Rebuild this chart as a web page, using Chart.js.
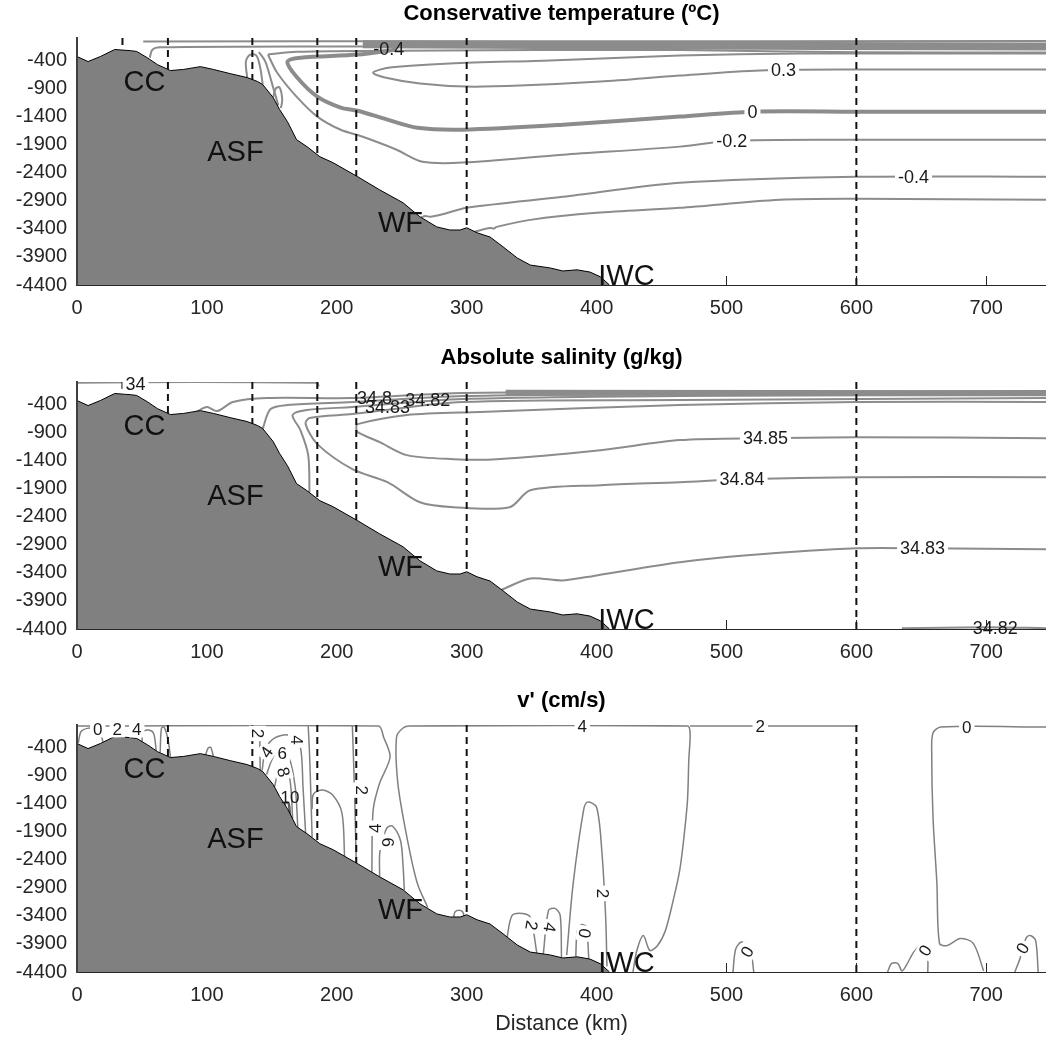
<!DOCTYPE html>
<html lang="en">
<head>
<meta charset="UTF-8">
<title>Sections</title>
<script src="https://cdn.jsdelivr.net/npm/chart.js"></script>
<style>
  body { margin: 0; background: #fff; }
  .panel { position: absolute; left: 0; width: 1046px; }
</style>
</head>
<body>
<div class="panel" style="top:0px"><canvas id="c1" width="1046" height="330"></canvas></div>
<div class="panel" style="top:344px"><canvas id="c2" width="1046" height="330"></canvas></div>
<div class="panel" style="top:687px"><canvas id="c3" width="1046" height="350"></canvas></div>

<script>
const distTicks = [0, 100, 200, 300, 400, 500, 600, 700];
const depthTicks = [-4400, -3900, -3400, -2900, -2400, -1900, -1400, -900, -400];
const stations = [35, 70, 135, 185, 215, 300, 600];

// seabed profile [km, m]
const bathy = [[0,-330],[8.5,-420],[18,-330],[29,-205],[41,-225],[46,-240],[54,-350],[62,-475],[72,-580],[82,-560],
  [95,-510],[105,-560],[118,-635],[131,-705],[139,-775],[143,-830],[151,-1060],[156,-1275],[162,-1490],[169,-1810],
  [177,-1935],[187,-2115],[197,-2220],[216,-2470],[233,-2705],[251,-2935],[264,-3185],[277,-3365],[287,-3420],
  [295,-3420],[300,-3380],[308,-3470],[318,-3545],[328,-3720],[339,-3920],[349,-4045],[364,-4095],[374,-4150],
  [385,-4130],[395,-4170],[403,-4255],[410,-4400]];
const regionNames = [['CC', 52, -795], ['ASF', 122, -2045], ['WF', 249, -3310], ['IWC', 423, -4257]];

// conservative temperature contours
const tSurf1 = [[51,-62],[300,-58],[746,-55]];
const tSurf2 = [[56,-350],[58,-210],[64,-165],[195,-150],[746,-140]];
const tBand = [[220,-110],[400,-130],[746,-150]];
const tSurf3 = [[147,-295],[169,-245],[246,-225],[464,-215],[600,-255],[746,-260]];
const tM02 = [[147,-295],[154,-615],[169,-1045],[185,-1400],[203,-1635],[220,-1760],[246,-1990],[266,-2205],
  [297,-2220],[374,-2080],[464,-1935],[504,-1830],[600,-1812],[746,-1812]];
const tZero = [[246,-205],[216,-295],[172,-350],[162,-420],[169,-690],[185,-1045],[203,-1240],[216,-1295],
  [239,-1455],[262,-1600],[297,-1633],[374,-1545],[464,-1400],[520,-1312],[600,-1312],[746,-1312]];
const tP03 = [[746,-277],[557,-277],[464,-312],[364,-400],[287,-455],[241,-527],[228,-616],[237,-705],[264,-812],
  [300,-866],[341,-848],[403,-776],[464,-670],[526,-580],[596,-562],[746,-562]];
const tM04 = [[265,-3195],[268,-3170],[272,-3185],[280,-3150],[300,-3025],[374,-2830],[464,-2580],[600,-2472],[746,-2472]];
const tM05 = [[306,-3450],[318,-3385],[321,-3395],[323,-3365],[349,-3240],[400,-3115],[464,-3026],[541,-2883],[600,-2865],[746,-2883]];
const tShelf1 = [[131,-705],[130,-420],[133,-300],[138,-310],[141,-520],[143,-830]];
const tShelf2 = [[151,-1060],[153,-900],[156,-880],[158,-1100],[157,-1250]];
const tShelf3 = [[140,-250],[145,-420],[150,-800],[155,-1200]];
const tempLabels = [['-0.4',240,-190,0,false],['0.3',544,-562,0,true],['0',520,-1312,0,true],
  ['-0.2',504,-1830,0,true],['-0.4',644,-2472,0,true]];

// absolute salinity contours
const s34 = [[0,-250],[0,-15],[185,-15],[186,-80]];
const sA1 = [[92,-530],[100,-446],[108,-517],[120,-357],[146,-286],[212,-286],[297,-196],[464,-178],[746,-160]];
const sA2 = [[143,-830],[149,-482],[162,-410],[212,-357],[297,-250],[464,-214],[746,-196]];
const sA3 = [[179,-1960],[178,-1303],[172,-857],[166,-589],[177,-500],[212,-446],[297,-303],[464,-250],[746,-232]];
const sA4 = [[746,-286],[464,-321],[297,-357],[212,-571],[179,-640],[176,-750],[185,-1107],[212,-1553],[239,-1785],
  [264,-2142],[290,-2231],[333,-2231],[349,-1928],[403,-1838],[464,-1785],[512,-1731],[600,-1696],[746,-1696]];
const sA5 = [[746,-357],[600,-357],[464,-410],[310,-535],[254,-589],[216,-750],[215,-820],[216,-893],[233,-1071],
  [254,-1303],[290,-1374],[323,-1374],[403,-1214],[464,-1035],[530,-1000],[600,-982],[746,-1000]];
const sBand = [[330,-190],[746,-200]];
const sA6 = [[327,-3700],[349,-3499],[374,-3535],[400,-3445],[464,-3213],[516,-3088],[600,-2963],[651,-2963],[746,-2981]];
const sA7 = [[635,-4385],[700,-4370],[746,-4385]];
const saltLabels = [['34',45,-40,0,true],['34.8',229,-285,0,false],['34.83',239,-450,0,false],['34.82',270,-321,0,false],
  ['34.85',530,-1000,0,true],['34.84',512,-1731,0,true],['34.83',651,-2963,0,true],['34.82',707,-4390,0,false]];

// v' contours
const v4a = [[0,-18],[232,-18],[236,-214],[241,-571],[233,-1035],[228,-1517],[227,-2620]];
const v4b = [[270,-3250],[262,-2820],[254,-2000],[247,-1035],[246,-214],[251,-54],[256,-18],[470,-18],[472,-143],
  [471,-625],[470,-1339],[467,-2053],[464,-2588],[459,-3124],[453,-3660],[447,-3927],[441,-4016],[436,-3749],[431,-4016],[428,-4400]];
const v2top = [[472,-18],[601,-18]];
const v0 = [[746,-36],[665,-36],[659,-143],[658,-450],[659,-1640],[662,-2820],[664,-3890],[670,-3927],[680,-3802],[690,-3890],[698,-4380]];
const v2arch = [[377,-4100],[382,-2820],[390,-1517],[393,-1374],[400,-1464],[404,-2231],[407,-3427],[408,-4300]];
const vBump1 = [[331,-3790],[335,-3392],[343,-3356],[349,-3427],[354,-4060]];
const vBump2 = [[359,-4080],[363,-3302],[368,-3267],[372,-3392],[373,-4140]];
const vBump3 = [[384,-4125],[385,-3700],[388,-3560],[392,-3590],[394,-4160]];
const vBumpWF = [[290,-3420],[291,-3330],[294,-3300],[297,-3330],[298,-3410]];
const vBump4 = [[505,-4400],[507,-4000],[511,-3870],[516,-3900],[519,-4050],[521,-4400]];
const vBump5 = [[624,-4400],[627,-4250],[632,-4250],[635,-4380],[638,-4300],[644,-4050],[649,-3930],[653,-3890],[655,-4100],[655,-4400]];
const vBump6 = [[722,-4400],[726,-4160],[729,-3900],[731,-3784],[734,-3749],[738,-3838],[740,-4400]];
const v2slope = [[141,-800],[141,-36],[143,-18]];
const vArch4 = [[142.5,-810],[145,-446],[150,-268],[159,-178],[166,-214],[172,-393],[174,-1107],[176,-1925]];
const vArch6 = [[146,-880],[151,-571],[156,-482],[163,-571],[168,-1107],[170,-1830]];
const vArch8 = [[152,-1107],[155,-857],[160,-803],[164,-982],[166,-1660]];
const vCore10 = [[159,-1450],[161,-1380],[163,-1400],[164,-1700],[162,-1580],[160,-1480]];
const vSideA = [[178,-18],[179,-500],[180,-1200],[181,-2000]];
const vSideB = [[181,-1500],[182,-1230],[189,-1160],[197,-1250],[204,-1570],[206,-2340]];
const vSideC = [[212,-18],[213,-700],[214,-1500],[215,-2460]];
const vArch6b = [[233,-2700],[233,-2300],[235,-2053],[239,-1821],[243,-1803],[249,-2053],[251,-2500],[252,-2940]];
const vShelf1 = [[1,-320],[3,-120],[8,-60],[14,-60],[18,-150],[20,-300]];
const vShelf2 = [[50,-310],[51,-120],[55,-90],[59,-150],[61,-460]];
const vShelf3 = [[64,-490],[65,-60],[67,-36],[70,-250],[72,-580]];
const vShelf4 = [[99,-530],[101,-410],[103,-400],[105,-560]];
const velLabels = [['0',16,-71,0,true],['2',31,-71,0,true],['4',46,-71,0,true],['2',139,-150,90,true],
  ['4',146,-482,-55,true],['6',158,-500,0,true],['8',159,-839,75,true],['10',164,-1285,0,false],['4',169,-268,90,true],
  ['2',219,-1160,90,true],['4',230,-1839,-90,true],['6',239,-2089,90,true],['4',389,-18,0,true],['2',526,-18,0,true],
  ['0',685,-36,0,true],['2',405,-3000,90,true],['2',350,-3570,100,true],['4',364,-3606,100,true],['0',391,-3713,-80,true],
  ['0',516,-4040,-60,true],['0',653,-4016,-60,true],['0',728,-3980,-60,true]];

const FONT = '"Liberation Sans", Arial, Helvetica, sans-serif';

function toXY(arr) {
  return arr.map(p => ({ x: p[0], y: p[1] }));
}

function contour(arr, width, color) {
  return {
    data: toXY(arr),
    borderColor: color || '#8c8c8c',
    borderWidth: width || 2,
    pointRadius: 0,
    tension: 0.3,
    fill: false,
    order: 3
  };
}

function stationLines() {
  return stations.map(s => ({
    data: [{ x: s, y: 0 }, { x: s, y: -4400 }],
    borderColor: '#111',
    borderWidth: 2,
    borderDash: [7, 5],
    pointRadius: 0,
    fill: false,
    order: 2
  }));
}

function seabed() {
  return {
    data: toXY(bathy),
    borderColor: '#000',
    borderWidth: 1,
    backgroundColor: '#808080',
    fill: 'start',
    pointRadius: 0,
    tension: 0,
    order: 1
  };
}

// inner tick marks + contour labels + region names
function decor(labels, labelSize) {
  return {
    id: 'decor',
    beforeDatasetsDraw(chart) {
      const { ctx, chartArea: a, scales: { x, y } } = chart;
      ctx.save();
      ctx.strokeStyle = '#262626';
      ctx.lineWidth = 1;
      distTicks.forEach(v => {
        const px = Math.round(x.getPixelForValue(v)) + 0.5;
        ctx.beginPath(); ctx.moveTo(px, a.bottom); ctx.lineTo(px, a.bottom - 9); ctx.stroke();
      });
      depthTicks.forEach(v => {
        const py = Math.round(y.getPixelForValue(v)) + 0.5;
        ctx.beginPath(); ctx.moveTo(a.left, py); ctx.lineTo(a.left + 9, py); ctx.stroke();
      });
      ctx.restore();
    },
    afterDatasetsDraw(chart) {
      const { ctx, scales: { x, y } } = chart;
      ctx.save();
      ctx.textAlign = 'center';
      ctx.textBaseline = 'middle';
      ctx.font = labelSize + 'px ' + FONT;
      labels.forEach(([txt, xv, yv, rot, bg]) => {
        const px = x.getPixelForValue(xv), py = y.getPixelForValue(yv);
        const w = ctx.measureText(txt).width;
        ctx.save();
        ctx.translate(px, py);
        ctx.rotate(rot * Math.PI / 180);
        if (bg) {
          ctx.fillStyle = '#fff';
          ctx.fillRect(-w / 2 - 3, -labelSize / 2, w + 6, labelSize);
        }
        ctx.fillStyle = '#1a1a1a';
        ctx.fillText(txt, 0, 1);
        ctx.restore();
      });
      ctx.font = '29px ' + FONT;
      ctx.fillStyle = '#111';
      regionNames.forEach(([txt, xv, yv]) => {
        ctx.fillText(txt, x.getPixelForValue(xv), y.getPixelForValue(yv));
      });
      ctx.restore();
    }
  };
}

function panelOptions(title, xTitle) {
  return {
    responsive: false,
    animation: false,
    devicePixelRatio: 1,
    layout: { padding: 0 },
    plugins: {
      legend: { display: false },
      tooltip: { enabled: false },
      title: {
        display: true,
        text: title,
        fullSize: false,
        color: '#000',
        font: { family: FONT, size: 22, weight: 'bold' },
        padding: { top: 1, bottom: 10.6 }
      }
    },
    scales: {
      x: {
        type: 'linear',
        min: 0,
        max: 746,
        afterBuildTicks: s => { s.ticks = distTicks.map(v => ({ value: v })); },
        afterFit: s => { s.height = xTitle ? 65 : 45; },
        grid: { display: false, drawTicks: false },
        border: { display: true, color: '#262626', width: 1 },
        ticks: { padding: 11, color: '#262626', font: { family: FONT, size: 20 }, maxRotation: 0, autoSkip: false, callback: v => String(v) },
        title: { display: !!xTitle, text: xTitle || '', color: '#262626', font: { family: FONT, size: 21.5 }, padding: { top: 0, bottom: 0 } }
      },
      y: {
        type: 'linear',
        min: -4400,
        max: 0,
        afterBuildTicks: s => { s.ticks = depthTicks.map(v => ({ value: v })); },
        afterFit: s => { s.width = 77; },
        grid: { display: false, drawTicks: false },
        border: { display: true, color: '#404040', width: 2, z: 1 },
        ticks: { padding: 10, color: '#262626', font: { family: FONT, size: 20 }, autoSkip: false, callback: v => String(v) }
      }
    }
  };
}

new Chart(document.getElementById('c1'), {
  type: 'line',
  data: {
    datasets: [
      seabed(),
      ...stationLines(),
      contour(tSurf1), contour(tSurf2), contour(tBand, 8), contour(tSurf3),
      contour(tM02), contour(tZero, 4), contour(tP03), contour(tM04), contour(tM05),
      contour(tShelf1), contour(tShelf2), contour(tShelf3)
    ]
  },
  options: panelOptions('Conservative temperature (ºC)'),
  plugins: [decor(tempLabels, 18)]
});

new Chart(document.getElementById('c2'), {
  type: 'line',
  data: {
    datasets: [
      seabed(),
      ...stationLines(),
      contour(s34), contour(sA1), contour(sA2), contour(sA3), contour(sA4), contour(sA5),
      contour(sBand, 6), contour(sA6), contour(sA7)
    ]
  },
  options: panelOptions('Absolute salinity (g/kg)'),
  plugins: [decor(saltLabels, 18)]
});

const vCol = '#808080';
new Chart(document.getElementById('c3'), {
  type: 'line',
  data: {
    datasets: [
      seabed(),
      ...stationLines(),
      ...[v4a, v4b, v2top, v0, v2arch, vBump1, vBump2, vBump3, vBumpWF, vBump4, vBump5, vBump6,
        v2slope, vArch4, vArch6, vArch8, vSideA, vSideB, vSideC, vArch6b,
        vShelf1, vShelf2, vShelf3, vShelf4].map(c => contour(c, 1.5, vCol)),
      contour(vCore10, 2.5, '#606060')
    ]
  },
  options: panelOptions("v' (cm/s)", 'Distance (km)'),
  plugins: [decor(velLabels, 17)]
});
</script>
</body>
</html>
